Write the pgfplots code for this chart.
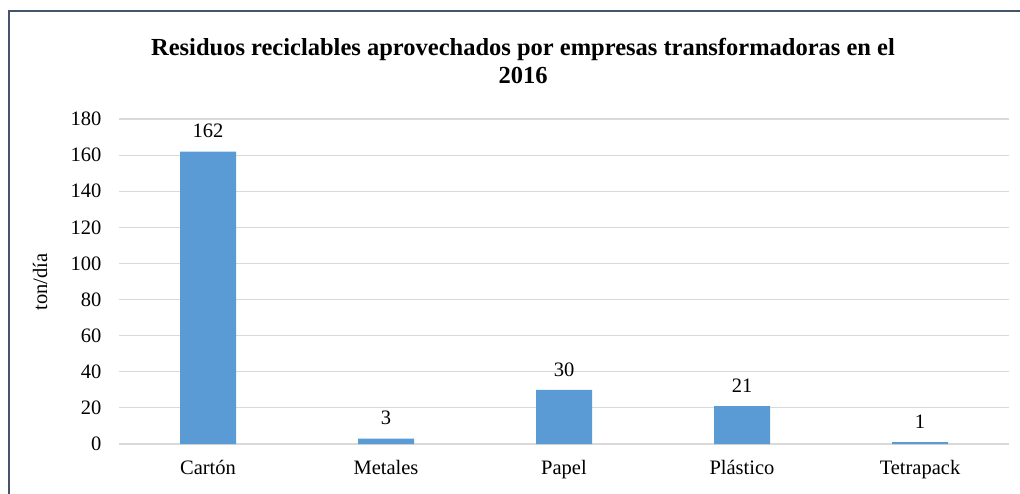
\documentclass[border=0pt]{standalone}
\usepackage{pgfplots}
\pgfplotsset{compat=1.18}
\usepackage{fontspec}
\setmainfont{Liberation Serif}
\definecolor{barblue}{HTML}{5B9BD5}
\definecolor{framec}{HTML}{44546A}
\begin{document}
\begin{tikzpicture}[x=1pt,y=1pt]
\useasboundingbox (0,0) rectangle (1020,493);
\fill[white] (0,0) rectangle (1020,493);
\draw[framec, line width=2pt] (9,-2) -- (9,482) -- (1022,482);
\node[font=\fontsize{24.5}{28}\selectfont\bfseries, align=center] at (523,493-61)
  {Residuos reciclables aprovechados por empresas transformadoras en el\\2016};
\node[font=\fontsize{20.5}{24}\selectfont, rotate=90] at (40,493-282) {ton/día};
\begin{axis}[
  at={(119pt,49pt)}, anchor=south west,
  scale only axis, width=890pt, height=325pt,
  xmin=-0.5, xmax=4.5, ymin=0, ymax=180,
  xtick={0,1,2,3,4},
  xticklabels={Cartón,Metales,Papel,Plástico,Tetrapack},
  ytick={0,20,...,180},
  ymajorgrids, grid style={draw=black!15, line width=1.2pt},
  axis line style={draw=none},
  major tick length=0pt,
  tick label style={font=\fontsize{20.5}{24}\selectfont},
  yticklabel style={xshift=-14pt},
  xticklabel style={yshift=-13pt},
  /pgf/number format/assume math mode=true,
  ybar, bar width=56pt,
  nodes near coords,
  every node near coord/.append style={font=\fontsize{20.5}{24}\selectfont, black, yshift=10pt},
  clip=false,
]
\addplot[fill=barblue, draw=none] coordinates {(0,162) (1,3) (2,30) (3,21) (4,1)};
\end{axis}
\end{tikzpicture}
\end{document}
